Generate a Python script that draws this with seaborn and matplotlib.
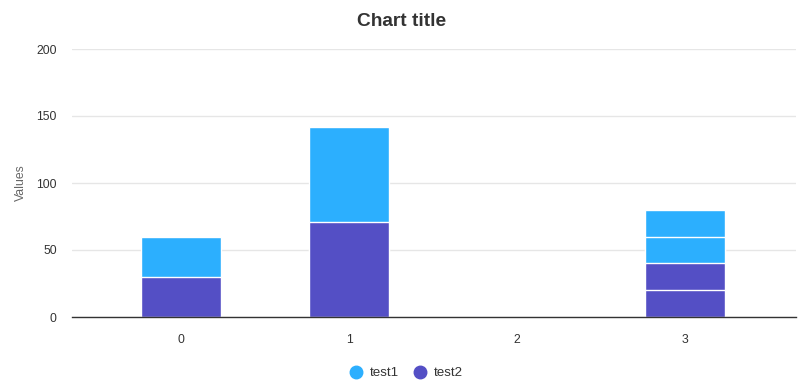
import matplotlib
matplotlib.use("Agg")
import matplotlib.pyplot as plt
from matplotlib.lines import Line2D
import pandas as pd
import seaborn as sns

# data (category 3 holds two points per series)
categories = ["0", "1", "2", "3"]
point_x = ["0", "1", "3", "3"]
test1 = [30, 71, 20, 20]
test2 = [30, 71, 20, 20]
series_names = ["test1", "test2"]
colors = {"test1": "#2caffe", "test2": "#544fc5"}

# stack order bottom -> top: test2 points, then test1 points
segments = []
for name, vals in [("test2", test2), ("test1", test1)]:
    for x, v in zip(point_x, vals):
        segments.append({"x": x, "series": name, "value": v})
df = pd.DataFrame(segments)
df["top"] = df.groupby("x")["value"].cumsum()
df["layer"] = df.groupby("x").cumcount()

sns.set_theme(style="white")
plt.rcParams["font.family"] = ["Liberation Sans", "DejaVu Sans"]

fig = plt.figure(figsize=(8.03, 3.9), dpi=100)
ax = fig.add_axes([72 / 803, 73 / 390, (796 - 72) / 803, (317 - 49) / 390])

# draw tallest cumulative layer first so lower segments sit on top
for layer in sorted(df["layer"].unique(), reverse=True):
    sub = df[df["layer"] == layer]
    sns.barplot(data=sub, x="x", y="top", hue="series", order=categories,
                palette=colors, dodge=False, width=80 / 168, ax=ax,
                saturation=1, edgecolor="white", linewidth=1,
                legend=False, zorder=3)

ax.set_xlim(-0.65, 3.66)
ax.set_ylim(0, 200)
ax.set_yticks([0, 50, 100, 150, 200])
ax.grid(axis="y", color="#e6e6e6", linewidth=1, zorder=0)
ax.set_axisbelow(True)
for side in ["left", "right", "top"]:
    ax.spines[side].set_visible(False)
ax.spines["bottom"].set_color("#333333")
ax.spines["bottom"].set_linewidth(1)
ax.spines["bottom"].set_zorder(5)

ax.tick_params(axis="x", length=7, width=1, color="#333333", pad=5,
               labelsize=8.8, labelcolor="#333333")
ax.tick_params(axis="y", length=0, pad=11, labelsize=8.8, labelcolor="#333333")
ax.set_xlabel("")
ax.set_ylabel("")
fig.text(21 / 803, 1 - 183 / 390, "Values", rotation=90, ha="center", va="center",
         fontsize=8.8, color="#666666")

fig.text(0.5, 1 - 22 / 390, "Chart title", ha="center", va="center",
         fontsize=13.8, fontweight="bold", color="#333333")

handles = [Line2D([], [], marker="o", linestyle="", markersize=9,
                  markerfacecolor=colors[n], markeredgecolor=colors[n])
           for n in series_names]
fig.legend(handles, series_names, loc="center", bbox_to_anchor=(0.5056, 1 - 373 / 390),
           ncol=2, frameon=False, fontsize=9.6, labelcolor="#333333",
           handletextpad=0.5, columnspacing=1.1, handlelength=1.0)

fig.savefig("out.png", dpi=100)
